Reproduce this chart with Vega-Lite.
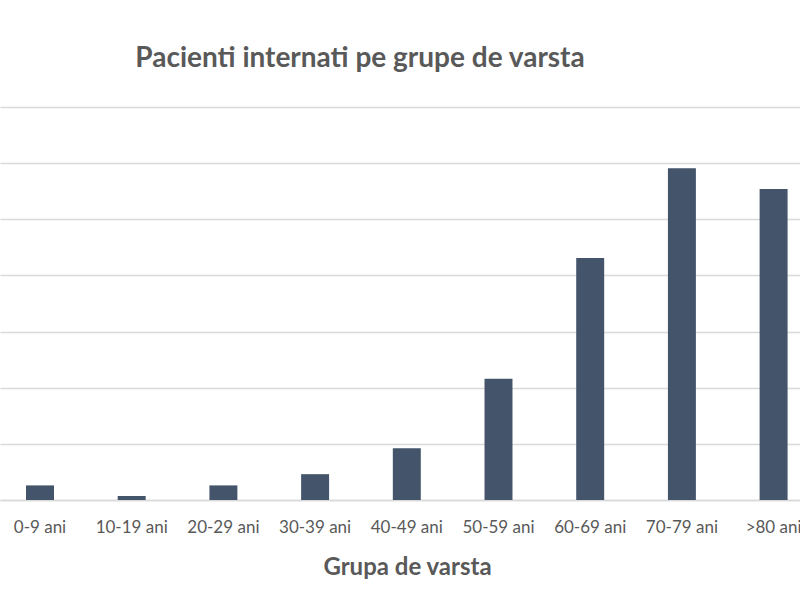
{
  "$schema": "https://vega.github.io/schema/vega-lite/v6.json",
  "autosize": {"type": "none"},
  "width": 800,
  "height": 393,
  "padding": {"left": 0, "top": 107, "right": 0, "bottom": 100},
  "background": "white",
  "title": {
    "text": "Pacienti internati pe grupe de varsta",
    "font": "Lato",
    "fontSize": 28,
    "fontWeight": "bold",
    "color": "#595959",
    "anchor": "middle",
    "dx": -40,
    "offset": 34
  },
  "data": {
    "values": [
      {"grupa": "0-9 ani", "pacienti": 26},
      {"grupa": "10-19 ani", "pacienti": 7},
      {"grupa": "20-29 ani", "pacienti": 26},
      {"grupa": "30-39 ani", "pacienti": 46},
      {"grupa": "40-49 ani", "pacienti": 92},
      {"grupa": "50-59 ani", "pacienti": 216},
      {"grupa": "60-69 ani", "pacienti": 431},
      {"grupa": "70-79 ani", "pacienti": 591},
      {"grupa": ">80 ani", "pacienti": 554}
    ]
  },
  "mark": {"type": "bar", "color": "#44546A"},
  "encoding": {
    "x": {
      "field": "grupa",
      "type": "nominal",
      "sort": null,
      "scale": {"paddingInner": 0.695, "paddingOuter": 0.2095, "align": 0.677},
      "axis": {
        "title": "Grupa de varsta",
        "titleFont": "Lato",
        "titleFontSize": 24,
        "titleFontWeight": "bold",
        "titleColor": "#595959",
        "titlePadding": 20,
        "titleX": 407,
        "labelFont": "Lato",
        "labelFontSize": 17,
        "labelColor": "#595959",
        "labelAngle": 0,
        "labelPadding": 19,
        "ticks": false,
        "domainColor": "#d9d9d9",
        "domainWidth": 1.5
      }
    },
    "y": {
      "field": "pacienti",
      "type": "quantitative",
      "scale": {"domain": [0, 700], "nice": false},
      "axis": {
        "title": null,
        "labels": false,
        "ticks": false,
        "domain": false,
        "values": [0, 100, 200, 300, 400, 500, 600, 700],
        "gridColor": "#d9d9d9",
        "gridWidth": 1.5
      }
    }
  },
  "config": {"view": {"stroke": null}}
}
